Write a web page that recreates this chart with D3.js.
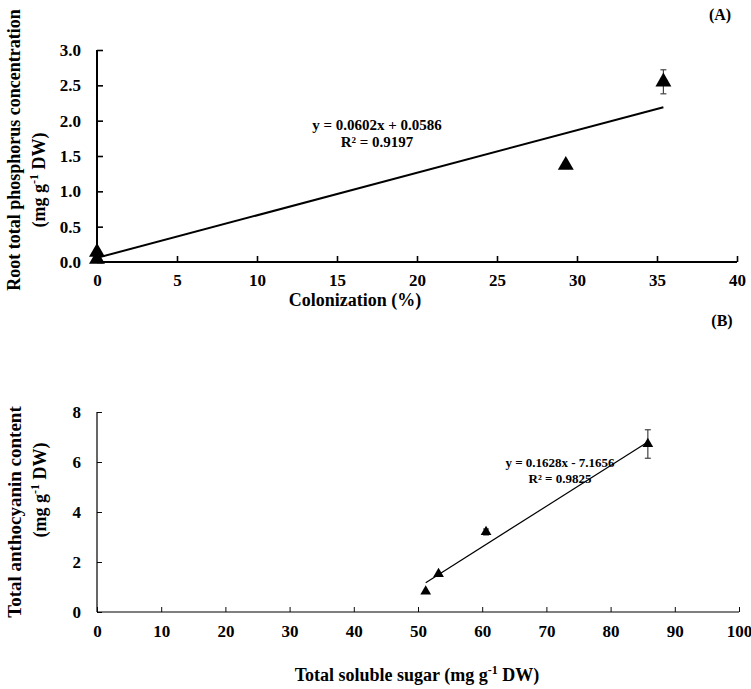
<!DOCTYPE html>
<html><head><meta charset="utf-8">
<script src="https://cdn.jsdelivr.net/npm/d3@7"></script>
<style>body{margin:0;background:#fff}svg{display:block}text{font-family:"Liberation Serif","Times New Roman",serif;font-weight:bold;fill:#000}</style>
</head><body><svg id="c" width="751" height="689"></svg>
<script>
// Panel A data
const colonization = [0, 0, 29.3, 35.4];
const phosphorus = [0.14, 0.04, 1.37, 2.55];
const phosphorusErr = [0, 0, 0.04, 0.17];
const fitA = {slope: 0.0602, intercept: 0.0586, xMin: 0, xMax: 35.4};
const xTicksA = [0,5,10,15,20,25,30,35,40];
const yTicksA = [0,0.5,1.0,1.5,2.0,2.5,3.0];
// Panel B data
const sugar = [51.2, 53.2, 60.6, 85.8];
const anthocyanin = [0.82, 1.52, 3.2, 6.72];
const anthocyaninErr = [0, 0, 0.12, 0.57];
const fitB = {slope: 0.1628, intercept: -7.1656, xMin: 51.2, xMax: 85.8};
const xTicksB = [0,10,20,30,40,50,60,70,80,90,100];
const yTicksB = [0,2,4,6,8];

const svg = d3.select("#c");
const tri = d3.symbol().type(d3.symbolTriangle);

function panel(o){
  const g = svg.append("g");
  const x = d3.scaleLinear().domain(o.xDom).range([o.x0, o.x1]);
  const y = d3.scaleLinear().domain(o.yDom).range([o.y0, o.y1]);
  const xa = g.append("g").attr("transform",`translate(0,${o.y0})`)
    .call(d3.axisBottom(x).tickValues(o.xTicks).tickSize(-o.tick).tickPadding(o.xPad).tickFormat(o.xFmt));
  const ya = g.append("g").attr("transform",`translate(${o.x0},0)`)
    .call(d3.axisLeft(y).tickValues(o.yTicks).tickSize(-o.tick).tickPadding(o.yPad).tickFormat(o.yFmt));
  [xa,ya].forEach(a=>{
    a.select(".domain").attr("stroke","#000").attr("stroke-width",o.sw);
    a.selectAll(".tick line").attr("stroke","#000").attr("stroke-width",o.sw*0.8);
    a.selectAll("text").style("font-size",o.fs+"px").style("font-family","'Liberation Serif',serif").style("font-weight","bold");
  });
  ya.select(".domain").attr("d",`M0,${o.y0}V${o.y1}`);
  xa.select(".domain").attr("d",`M${o.x0},0H${o.x1}`);
  // fit line
  g.append("line").attr("x1",x(o.fit.xMin)).attr("y1",y(o.fit.slope*o.fit.xMin+o.fit.intercept))
    .attr("x2",x(o.fit.xMax)).attr("y2",y(o.fit.slope*o.fit.xMax+o.fit.intercept))
    .attr("stroke","#000").attr("stroke-width",o.lw);
  // error bars
  o.xs.forEach((xv,i)=>{
    const e=o.err[i]; if(!e) return;
    const cx=x(xv);
    g.append("line").attr("x1",cx).attr("x2",cx).attr("y1",y(o.ys[i]-e)).attr("y2",y(o.ys[i]+e)).attr("stroke","#444").attr("stroke-width",1.2);
    [o.ys[i]-e,o.ys[i]+e].forEach(v=>g.append("line").attr("x1",cx-3).attr("x2",cx+3).attr("y1",y(v)).attr("y2",y(v)).attr("stroke","#444").attr("stroke-width",1.2));
  });
  // points
  o.xs.forEach((xv,i)=>{
    g.append("path").attr("d",tri.size(o.ms)()).attr("transform",`translate(${x(xv)},${y(o.ys[i])})`).attr("fill","#000");
  });
  return {x,y,g};
}

const A = panel({xDom:[0,40], yDom:[0,3], x0:97, x1:737, y0:262, y1:50,
  xTicks:xTicksA, yTicks:yTicksA, xFmt:d3.format("d"), yFmt:d3.format(".1f"), fs:17,
  tick:6, xPad:12, yPad:16, sw:2, lw:2, fit:fitA, xs:colonization, ys:phosphorus, err:phosphorusErr, ms:110});
const B = panel({xDom:[0,100], yDom:[0,8], x0:97, x1:739, y0:612, y1:412,
  xTicks:xTicksB, yTicks:yTicksB, xFmt:d3.format("d"), yFmt:d3.format("d"), fs:17,
  tick:5, xPad:13, yPad:16, sw:1.2, lw:1.2, fit:fitB, xs:sugar, ys:anthocyanin, err:anthocyaninErr, ms:50});

function txt(x,y,s,size,anchor,rot){
  const t=svg.append("text").attr("x",x).attr("y",y).style("font-size",size+"px").attr("text-anchor",anchor||"middle");
  if(rot) t.attr("transform",`rotate(-90,${x},${y})`);
  return t;
}
function unitText(t,pre,size){
  t.append("tspan").text(pre+"(mg g");
  t.append("tspan").text("-1").attr("dy",-7).style("font-size",Math.round(size*0.65)+"px");
  t.append("tspan").text(" DW)").attr("dy",7);
}
// Panel A texts
txt(377,130,"",15).text("y = 0.0602x + 0.0586");
txt(377,147,"",15).text("R² = 0.9197");
txt(720,20,"",16).text("(A)");
txt(355,306,"",18).text("Colonization (%)");
txt(20,150,"",18,"middle",true).text("Root total phosphorus concentration");
unitText(txt(45,180,"",18,"middle",true),"",18);
// Panel B texts
txt(560,467,"",13).text("y = 0.1628x - 7.1656");
txt(560,483,"",13).text("R² = 0.9825");
txt(722,326,"",16).text("(B)");
unitText(txt(417,681,"",18),"Total soluble sugar ",18);
txt(21,512,"",19,"middle",true).text("Total anthocyanin content");
unitText(txt(46,490,"",18,"middle",true),"",18);
</script></body></html>
